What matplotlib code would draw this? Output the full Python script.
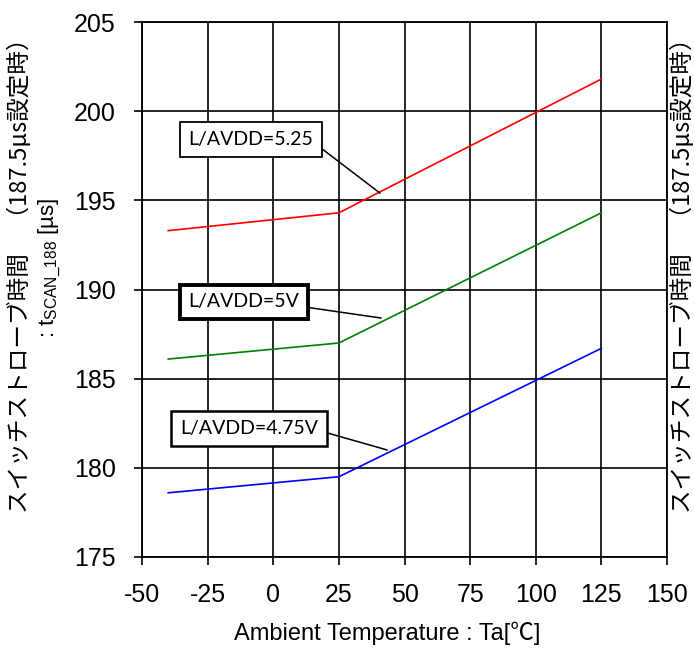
import matplotlib
matplotlib.use("Agg")
import matplotlib.pyplot as plt

plt.rcParams['font.family'] = ['Liberation Sans', 'Noto Sans CJK JP', 'DejaVu Sans']
plt.rcParams['mathtext.fontset'] = 'custom'
plt.rcParams['mathtext.rm'] = 'Liberation Sans'
plt.rcParams['mathtext.it'] = 'Liberation Sans'
plt.rcParams['axes.unicode_minus'] = False

# data
temps = [-40, 25, 125]
v525 = [193.3, 194.3, 201.8]
v500 = [186.1, 187.0, 194.3]
v475 = [178.6, 179.5, 186.7]

xticks = [-50, -25, 0, 25, 50, 75, 100, 125, 150]
yticks = [175, 180, 185, 190, 195, 200, 205]

labels = ["L/AVDD=5.25", "L/AVDD=5V", "L/AVDD=4.75V"]
label_pos = [(-8.5, 198.4), (-11.1, 189.3), (-9.2, 182.2)]
arrow_tip = [(40.7, 195.4), (41.1, 188.4), (43.4, 181.0)]
relpos_y = [0.35, 0.25, 0.4]
box_lw = [1.3, 2.8, 1.8]
colors = ["#ff0000", "#008000", "#0000ff"]

fig = plt.figure(figsize=(6.94, 6.48), dpi=100)
ax = fig.add_axes([142/694, 1-557/648, (667-142)/694, (557-22)/648])

for vals, c in zip([v525, v500, v475], colors):
    ax.plot(temps, vals, color=c, lw=1.2, zorder=3)

ax.set_xlim(-50, 150)
ax.set_ylim(175, 205)
ax.set_xticks(xticks)
ax.set_yticks(yticks)
ax.grid(True, color='black', lw=1.2)
for s in ax.spines.values():
    s.set_color('black')
    s.set_linewidth(1.3)
ax.tick_params(axis='both', direction='out', length=6, width=1.2, pad=13,
               labelsize=18, colors='black')
ax.set_axisbelow(True)

fig.text(387/694, 1-633/648, "Ambient Temperature : Ta[℃]", ha='center', va='center', fontsize=17)

for lab, pos, tip, ry, lw in zip(labels, label_pos, arrow_tip, relpos_y, box_lw):
    ax.annotate(lab, xy=tip, xytext=pos, textcoords='data', ha='center', va='center',
                fontsize=14, family=['Lato', 'DejaVu Sans'], zorder=5,
                bbox=dict(boxstyle='square,pad=0.45', fc='white', ec='black', lw=lw),
                arrowprops=dict(arrowstyle='-', color='black', lw=1.1,
                                relpos=(1.0, ry), shrinkA=0, shrinkB=0))

jp = "スイッチストローブ時間　（187.5µs設定時）"
fam = ['Noto Sans CJK JP', 'Liberation Sans']
fig.text(20/694, 1-270/648, jp, rotation=90, ha='center', va='center', fontsize=17, family=fam)
fig.text(50/694, 1-268/648, r": t$_{\mathrm{SCAN\_188}}$ [µs]", rotation=90, ha='center', va='center',
         fontsize=16, family=['Liberation Sans', 'Noto Sans CJK JP'])
fig.text(683/694, 1-270/648, jp, rotation=90, ha='center', va='center', fontsize=17, family=fam)

fig.savefig("out.png", dpi=100)
